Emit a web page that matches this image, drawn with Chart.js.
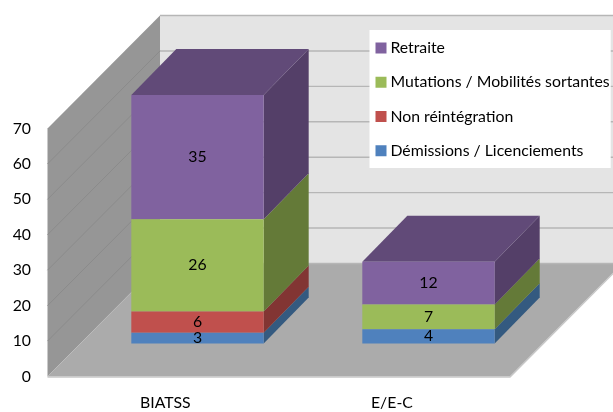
<!DOCTYPE html>
<html><head><meta charset="utf-8">
<style>html,body{margin:0;padding:0;background:#fff}#w{width:613px;height:412px}canvas{display:block;filter:blur(0.4px)}</style>
<script src="https://cdn.jsdelivr.net/npm/chart.js@4"></script></head>
<body><div id="w"><canvas id="c" width="613" height="412"></canvas></div>
<script>
const categories = ['BIATSS', 'E/E-C'];
const demissions = [3, 4];
const nonReintegration = [6, 0];
const mutations = [26, 7];
const retraite = [35, 12];
const yTicks = [0, 10, 20, 30, 40, 50, 60, 70];
const FONT = 'Lato,"Liberation Sans",sans-serif';
const FS = 15.8;

const seriesDefs = [
  {label:'Démissions / Licenciements', data:demissions, color:'#4f81bd', side:'#345a80', top:'#3d6491'},
  {label:'Non réintégration', data:nonReintegration, color:'#c0504d', side:'#823533', top:'#943e3b'},
  {label:'Mutations / Mobilités sortantes', data:mutations, color:'#9bbb59', side:'#647a38', top:'#778f44'},
  {label:'Retraite', data:retraite, color:'#80629f', side:'#543f68', top:'#614a78'}
];
const DEPTH = {x:45, y:-46};
const WALL = {front:47.5, dx:112.5, dy:-113, floorRight:510};

function poly(ctx, pts, fill){
  ctx.beginPath(); pts.forEach((p,i)=> i?ctx.lineTo(p[0],p[1]):ctx.moveTo(p[0],p[1]));
  ctx.closePath(); ctx.fillStyle=fill; ctx.fill();
}
const scene3d = {
  id:'scene3d',
  afterLayout(chart){
    const l = chart.legend;
    l.left = 361; l.right = 613; l.top = 21.5; l.bottom = 260;
  },
  beforeDraw(chart){
    const {ctx, scales:{y2}} = chart;
    const b = y2.getPixelForValue(0), t = y2.getPixelForValue(70);
    const f = WALL.front, bx = f+WALL.dx, dy = WALL.dy, R = chart.width+20;
    ctx.save();
    poly(ctx, [[bx,t+dy],[R,t+dy],[R,b+dy],[bx,b+dy]], '#e4e4e4');
    poly(ctx, [[f,t],[bx,t+dy],[bx,b+dy],[f,b]], '#969696');
    poly(ctx, [[f,b],[WALL.floorRight,b],[WALL.floorRight+WALL.dx,b+dy],[bx,b+dy]], '#ababab');
    yTicks.forEach(v=>{
      const p = y2.getPixelForValue(v);
      ctx.lineWidth = 1.4; ctx.strokeStyle = '#b6b6b6';
      ctx.beginPath(); ctx.moveTo(bx,p+dy); ctx.lineTo(R,p+dy); ctx.stroke();
      if(v>0 && v<70){
        ctx.lineWidth = 1; ctx.strokeStyle = '#8b8b8b';
        ctx.beginPath(); ctx.moveTo(f,p); ctx.lineTo(bx,p+dy); ctx.stroke();
      }
    });
    ctx.lineWidth=1.4; ctx.strokeStyle='#c8c8c8';
    ctx.beginPath(); ctx.moveTo(f,b+0.5); ctx.lineTo(WALL.floorRight,b+0.5); ctx.lineTo(WALL.floorRight+WALL.dx,b+dy+0.5); ctx.stroke();
    ctx.fillStyle='#fff'; ctx.fillRect(369.5,30,241.2,138);
    ctx.restore();
  },
  beforeDatasetsDraw(chart){
    const ctx = chart.ctx; ctx.save();
    const d = DEPTH;
    categories.forEach((_,i)=>{
      let last = null;
      seriesDefs.forEach((s,k)=>{
        if(!s.data[i]) return;
        const e = chart.getDatasetMeta(k).data[i];
        const r = e.x+e.width/2;
        poly(ctx, [[r,e.base],[r,e.y],[r+d.x,e.y+d.y],[r+d.x,e.base+d.y]], s.side);
        last = {e,s};
      });
      if(last){
        const e=last.e, l=e.x-e.width/2, r=e.x+e.width/2;
        poly(ctx, [[l,e.y],[r,e.y],[r+d.x,e.y+d.y],[l+d.x,e.y+d.y]], last.s.top);
      }
    });
    ctx.restore();
  },
  afterDatasetsDraw(chart){
    const ctx = chart.ctx; ctx.save();
    ctx.font = FS+'px '+FONT; ctx.fillStyle='#000'; ctx.textAlign='center'; ctx.textBaseline='middle';
    seriesDefs.forEach((s,k)=>{
      chart.getDatasetMeta(k).data.forEach((e,i)=>{
        if(s.data[i]) ctx.fillText(String(s.data[i]), e.x, (e.y+e.base)/2);
      });
    });
    ctx.restore();
  }
};

new Chart(document.getElementById('c'), {
  type:'bar',
  data:{labels:categories, datasets:seriesDefs.map(s=>({
    label:s.label, data:s.data, backgroundColor:s.color, borderWidth:0,
    categoryPercentage:1, barPercentage:0.573, clip:false, yAxisID:'y', pointStyle:'rect'
  }))},
  options:{
    responsive:false, animation:false,
    layout:{padding:{left:8,right:69,top:128.5,bottom:0}},
    plugins:{
      tooltip:{enabled:false},
      legend:{position:'chartArea', reverse:true, align:'start',
        labels:{usePointStyle:true, pointStyle:'rect', boxWidth:3, boxHeight:11, padding:18.5, color:'#000',
          font:{family:FONT, size:FS}}}
    },
    scales:{
      x:{stacked:true, grid:{display:false, drawTicks:false}, border:{display:false},
        afterFit(a){ a.height=35.5; a.paddingLeft=0; a.paddingRight=0; },
        ticks:{align:'start', labelOffset:-57.5, padding:17, maxRotation:0, autoSkip:false, color:'#000', font:{family:FONT,size:FS}}},
      y:{stacked:true, display:false, min:-9.31, max:60.55},
      y2:{position:'left', min:0, max:70, grid:{display:false, drawTicks:false}, border:{display:false},
        afterBuildTicks(ax){ ax.ticks = yTicks.map(v=>({value:v})); },
        afterFit(a){ a.width=74; a.paddingTop=0; a.paddingBottom=0; },
        ticks:{padding:51, color:'#000', font:{family:FONT,size:FS}}}
    }
  },
  plugins:[scene3d]
});
</script></body></html>
